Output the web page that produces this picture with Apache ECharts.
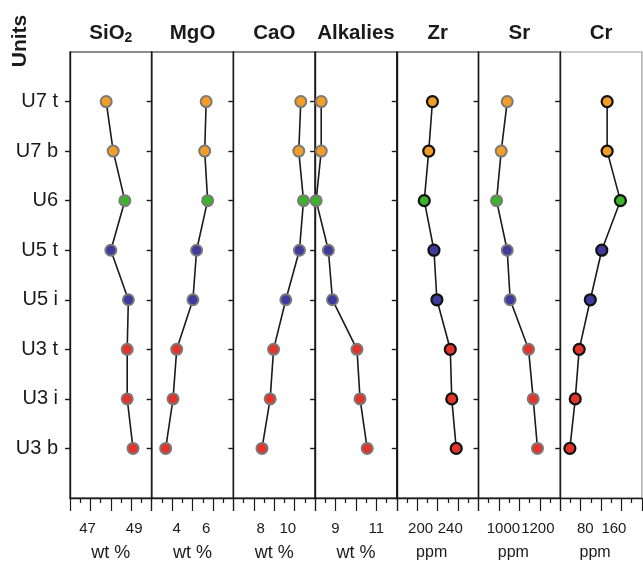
<!DOCTYPE html>
<html>
<head>
<meta charset="utf-8">
<script src="https://cdn.jsdelivr.net/npm/echarts@6/dist/echarts.min.js"></script>
<style>
  html, body { margin: 0; padding: 0; background: #fff; }
  #container { width: 643px; height: 562px; }
</style>
</head>
<body>
<div id="container"></div>
<script>
let dom = document.getElementById("container");
let myChart = echarts.init(dom);

// units from top to bottom
const units = ['U7 t', 'U7 b', 'U6', 'U5 t', 'U5 i', 'U3 t', 'U3 i', 'U3 b'];

// oxides (wt %)
const sio2 = [47.8, 48.1, 48.6, 48.0, 48.75, 48.7, 48.7, 48.95];
const mgo = [6.0, 5.9, 6.1, 5.35, 5.1, 4.0, 3.75, 3.25];
const cao = [10.95, 10.8, 11.15, 10.85, 9.85, 8.95, 8.7, 8.1];
const alkalies = [8.3, 8.3, 8.05, 8.65, 8.85, 10.05, 10.2, 10.55];
// trace elements (ppm)
const zr = [216, 211, 205, 218, 222, 240, 242, 248];
const sr = [1022, 987, 960, 1022, 1039, 1146, 1173, 1198];
const cr = [141, 141, 178, 126, 94, 63, 52, 37];

const panelTitles = ['SiO2', 'MgO', 'CaO', 'Alkalies', 'Zr', 'Sr', 'Cr'];
const panelUnits = ['wt %', 'wt %', 'wt %', 'wt %', 'ppm', 'ppm', 'ppm'];
const tickLabels = [[47, 49], [4, 6], [8, 10], [9, 11], [200, 240], [1000, 1200], [80, 160]];
const panelValues = [sio2, mgo, cao, alkalies, zr, sr, cr];

// axis extents and look
const axisRanges = [[46.25, 49.75], [2.3, 7.85], [6, 12], [8, 12], [168, 278], [855, 1330], [10, 238]];
const darkBorder = [false, false, false, false, true, false, true];
const colors = {U7: '#f39c26', U6: '#3db22c', U5: '#3e3a9e', U3: '#e3342b'};
const ink = '#1a1a1a';
const fontFamily = 'Liberation Sans, Arial, sans-serif';

const gridLeft = 70;
const gridTop = 52;
const gridHeight = 446;
const panelWidth = 81.7;

function unitColor(u) {
    return colors[u.split(' ')[0]];
}

let grids = [];
let xAxes = [];
let yAxes = [];
let series = [];
let graphics = [];

panelTitles.forEach(function (name, i) {
    let left = gridLeft + i * panelWidth;
    let isPpm = panelUnits[i] === 'ppm';
    grids.push({
        left: left,
        top: gridTop,
        width: panelWidth,
        height: gridHeight,
        containLabel: false,
        outerBoundsMode: 'none',
        show: true,
        borderColor: i === 6 ? '#999' : ink,
        borderWidth: 1.2
    });

    // data axis: labels only
    xAxes.push({
        type: 'value',
        gridIndex: i,
        min: axisRanges[i][0],
        max: axisRanges[i][1],
        axisLine: {show: true, lineStyle: {color: ink, width: 1.4}},
        axisTick: {show: false},
        splitLine: {show: false},
        axisLabel: {
            customValues: tickLabels[i],
            formatter: function (v) {
                return String(v);
            },
            hideOverlap: false,
            color: ink,
            fontSize: 15,
            fontFamily: fontFamily,
            margin: 23
        },
        name: panelUnits[i],
        nameLocation: 'middle',
        nameGap: isPpm ? 47 : 46,
        nameTextStyle: {
            color: ink,
            fontSize: isPpm ? 16 : 18,
            fontFamily: fontFamily,
            padding: isPpm ? [0, 12, 0, 0] : 0
        }
    });
    // decoration axis: alternating long/short ticks
    xAxes.push({
        type: 'value',
        gridIndex: i,
        position: 'bottom',
        min: 0,
        max: 8,
        interval: 2,
        axisLine: {show: false},
        axisLabel: {show: false},
        splitLine: {show: false},
        axisTick: {show: true, length: 13, lineStyle: {color: ink, width: 1.2}},
        minorTick: {show: true, splitNumber: 2, length: 5, lineStyle: {color: ink, width: 1.2}}
    });

    yAxes.push({
        type: 'category',
        gridIndex: i,
        inverse: true,
        boundaryGap: false,
        data: [''].concat(units).concat(['']),
        axisLine: {show: true, lineStyle: {color: ink, width: 1.4}},
        axisTick: {
            show: true,
            length: 5,
            lineStyle: {color: ink, width: 1.4},
            interval: function (idx) {
                return idx > 0 && idx <= units.length;
            }
        },
        axisLabel: {
            show: i === 0,
            color: ink,
            fontSize: 20,
            fontFamily: fontFamily,
            margin: 12
        },
        splitLine: {show: false}
    });

    series.push({
        type: 'line',
        xAxisIndex: i * 2,
        yAxisIndex: i,
        symbol: 'circle',
        symbolSize: 11,
        lineStyle: {color: ink, width: 1.6},
        itemStyle: {
            borderColor: darkBorder[i] ? '#111' : '#7a7a7a',
            borderWidth: darkBorder[i] ? 2.2 : 2
        },
        z: 3,
        data: units.map(function (u, k) {
            return {
                value: [panelValues[i][k], u],
                itemStyle: {color: unitColor(u)}
            };
        })
    });

    let titleText = name === 'SiO2' ? '{b|SiO}{s|2}' : '{b|' + name + '}';
    graphics.push({
        type: 'text',
        x: left + panelWidth / 2,
        y: 33,
        style: {
            text: titleText,
            align: 'center',
            verticalAlign: 'middle',
            rich: {
                b: {fontSize: 20.5, fontWeight: 'bold', fill: ink, fontFamily: fontFamily, lineHeight: 24},
                s: {fontSize: 14, fontWeight: 'bold', fill: ink, fontFamily: fontFamily, lineHeight: 24, verticalAlign: 'bottom', padding: [9, 0, 0, 0]}
            }
        }
    });
});

graphics.push({
    type: 'text',
    x: 20,
    y: 41,
    rotation: Math.PI / 2,
    style: {
        text: 'Units',
        align: 'center',
        verticalAlign: 'middle',
        fill: ink,
        font: 'bold 21px "Liberation Sans", Arial, sans-serif'
    }
});

let option = {
    animation: false,
    backgroundColor: '#fff',
    grid: grids,
    xAxis: xAxes,
    yAxis: yAxes,
    series: series,
    graphic: graphics
};

if (option && typeof option === "object") {
    myChart.setOption(option, true);
}
</script>
</body>
</html>
